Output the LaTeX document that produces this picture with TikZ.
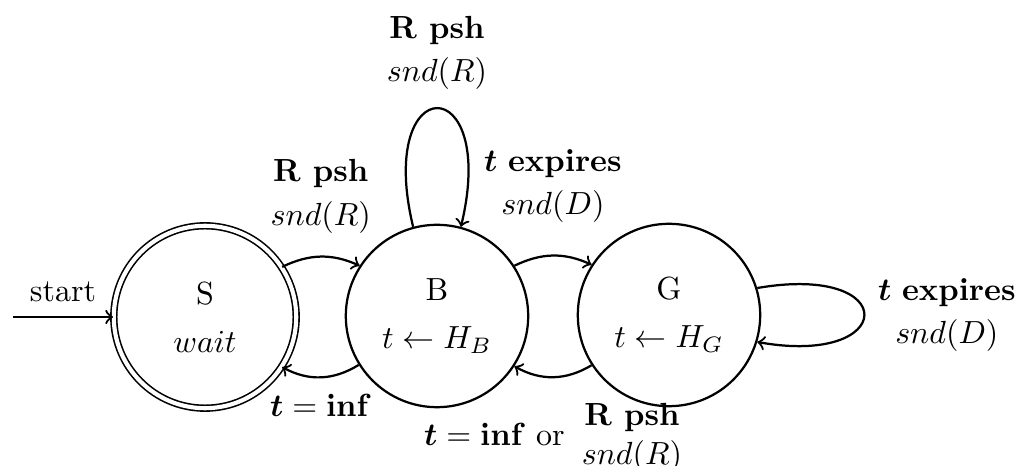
\documentclass[tikz,border=0pt]{standalone}
\usepackage{amsmath,amssymb}
\usepackage{tikz}

\begin{document}
\begin{tikzpicture}[
    x=0.3125pt, y=0.3125pt,
    state/.style={circle, draw, line width=0.7pt, minimum size=57pt, inner sep=0pt, align=center},
    final/.style={state, double, double distance=1.3pt, line width=0.5pt},
    trans/.style={->, line width=0.7pt},
    lbl/.style={align=center, inner sep=0pt}
]
    \useasboundingbox (0,0) rectangle (1021,466);

    % States
    \node[final] (S) at (205,149) {S\\[3pt]$wait$};
    \node[state] (B) at (437,150) {B\\[3pt]$t \leftarrow H_B$};
    \node[state] (G) at (669,151) {G\\[3pt]$t \leftarrow H_G$};

    % Start
    \coordinate (start) at (13,149);
    \draw[trans] (start) -- node[lbl, above=4.5pt] {start} (S);

    % Transitions
    \draw[trans] (S.33) to[bend left=25]
        node[lbl, above=7pt] {\textbf{R psh}\\[1.5pt]$snd(R)$} (B.147);
    \draw[trans] (B.212) to[bend left=30]
        node[lbl, below=5pt] {$\boldsymbol{t} = \mathbf{inf}$} (S.-33);
    \draw[trans] (B.33) to[bend left=25]
        node[lbl, above=10pt] {$\boldsymbol{t}$ \textbf{expires}\\[1.5pt]$snd(D)$} (G.147);
    \draw[trans] (G.213) to[bend left=30]
        node[lbl, below=6.5pt] {$\boldsymbol{t} = \mathbf{inf}$ or\hspace{2pt} \begin{tabular}{@{}c@{}}\textbf{R psh}\\ $snd(R)$\end{tabular}} (B.-33);

    % Loops
    \draw[trans] (B.105) .. controls +(-38,158) and +(38,158) ..
        node[lbl, above=5.5pt] {\textbf{R psh}\\[1.5pt]$snd(R)$} (B.75);
    \draw[trans] (G.17) .. controls +(145,25) and +(140,-25) ..
        node[lbl, right=4pt] {$\boldsymbol{t}$ \textbf{expires}\\[1.5pt]$snd(D)$} (G.-17);
\end{tikzpicture}
\end{document}
